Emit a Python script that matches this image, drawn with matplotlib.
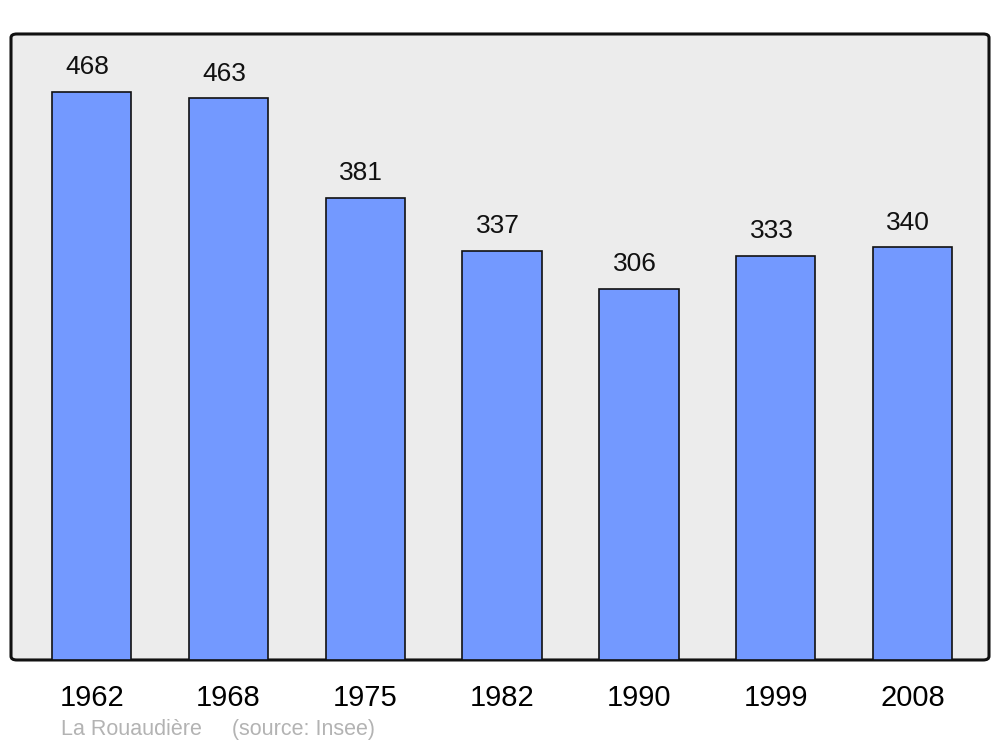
import matplotlib
matplotlib.use('Agg')
import matplotlib.pyplot as plt
from matplotlib.patches import FancyBboxPatch

plt.rcParams['font.family'] = ['Liberation Sans', 'DejaVu Sans']

# data
years = ['1962', '1968', '1975', '1982', '1990', '1999', '2008']
population = [468, 463, 381, 337, 306, 333, 340]
commune = 'La Rouaudière'
source = '(source: Insee)'

fig = plt.figure(figsize=(10, 7.47), dpi=100)
ax = fig.add_axes([0.011, 0.1165, 0.978, 0.838])

# rounded background frame
ax.patch.set_visible(False)
frame = FancyBboxPatch((0, 0), 1, 1, boxstyle='round,pad=0,rounding_size=0.006',
                       transform=ax.transAxes, facecolor='#ececec',
                       edgecolor='#111111', linewidth=2.2, zorder=0,
                       clip_on=False)
ax.add_patch(frame)
for s in ax.spines.values():
    s.set_visible(False)

x = list(range(len(years)))
bars = ax.bar(x, population, width=0.58, color='#7399ff',
              edgecolor='#111111', linewidth=1.2, zorder=2)

# value labels sit a little left of the bar centre
for xi, v in zip(x, population):
    ax.annotate(str(v), (xi, v), xytext=(-3, 9), textcoords='offset points',
                ha='center', va='bottom', fontsize=19, color='#111111')

ax.set_xlim(-0.59, 6.56)
ax.set_ylim(0, 515.8)
ax.set_yticks([])
ax.set_xticks(x)
ax.set_xticklabels(years, fontsize=21)
ax.tick_params(axis='x', length=0, pad=17)

fig.text(0.061, 0.009, commune + '     ' + source, fontsize=15.5,
         color='#b3b3b3', ha='left', va='bottom')

fig.savefig('out.png', dpi=100)
